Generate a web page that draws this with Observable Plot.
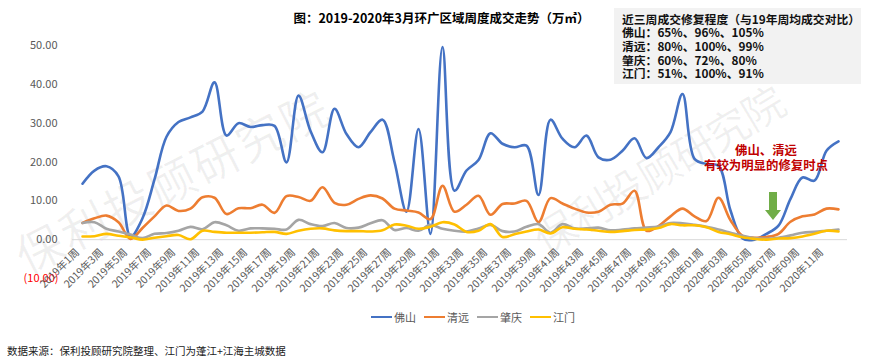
<!DOCTYPE html>
<html><head><meta charset="utf-8">
<script src="https://cdn.jsdelivr.net/npm/d3@7"></script>
<script src="https://cdn.jsdelivr.net/npm/@observablehq/plot@0.6"></script>
<style>
html,body{margin:0;padding:0;background:#fff;}
#wrap{position:relative;width:883px;height:362px;overflow:hidden;background:#fff;font-family:"Noto Sans CJK SC","Noto Sans",sans-serif;}
#wrap svg{position:absolute;left:0;top:0;}
.abs{position:absolute;white-space:nowrap;}
#title{left:0;width:883px;top:8px;text-align:center;font-size:12.5px;font-weight:bold;color:#000;line-height:19px;}
#box{left:614px;top:8px;width:247px;height:76px;background:#f2f2f2;}
.bl{position:absolute;left:8px;font-size:11.8px;font-weight:bold;color:#111;line-height:13.7px;white-space:nowrap;}
#note{left:696px;width:140px;top:143px;text-align:center;font-size:12.4px;font-weight:bold;color:#c00000;line-height:15px;}
.wm{position:absolute;color:rgba(0,0,0,0.06);white-space:nowrap;text-align:center;}
.leg{position:absolute;top:309px;height:16px;display:flex;align-items:center;font-size:11px;color:#595959;}
.leg .sw{display:inline-block;width:21px;height:2.6px;margin-right:2px;}
#src{left:7px;top:343px;font-size:10.5px;color:#222;line-height:16px;}
</style></head>
<body><div id="wrap"></div>
<script>
const weeks = ["2019年1周","2019年2周","2019年3周","2019年4周","2019年5周","2019年6周","2019年7周","2019年8周","2019年9周","2019年10周",
"2019年11周","2019年12周","2019年13周","2019年14周","2019年15周","2019年16周","2019年17周","2019年18周","2019年19周","2019年20周",
"2019年21周","2019年22周","2019年23周","2019年24周","2019年25周","2019年26周","2019年27周","2019年28周","2019年29周","2019年30周",
"2019年31周","2019年32周","2019年33周","2019年34周","2019年35周","2019年36周","2019年37周","2019年38周","2019年39周","2019年40周",
"2019年41周","2019年42周","2019年43周","2019年44周","2019年45周","2019年46周","2019年47周","2019年48周","2019年49周","2019年50周",
"2019年51周","2019年52周","2020年01周","2020年02周","2020年03周","2020年04周","2020年05周","2020年06周","2020年07周","2020年08周",
"2020年09周","2020年10周","2020年11周","2020年12周"];

const foshan = [14.4,17.8,18.9,16.3,0.8,5.5,15.5,26.5,30.3,31.5,
33.0,40.5,26.8,30.0,29.0,29.5,29.3,19.9,37.1,28.0,
22.5,33.7,27.2,23.8,27.7,30.9,20.0,7.2,28.5,1.5,
49.6,12.6,17.8,20.5,27.4,24.7,23.8,24.2,11.5,30.9,
26.0,23.8,26.8,21.2,20.6,22.9,26.1,21.0,23.8,27.7,
37.5,20.8,19.5,19.0,7.5,0.3,0.0,1.5,3.6,10.5,
16.0,15.2,22.9,25.3];
const qingyuan = [4.3,5.5,6.2,4.5,0.2,3.0,6.0,8.8,7.4,8.0,
10.9,10.8,6.6,8.1,8.1,9.0,6.9,11.2,11.0,10.0,
13.5,9.5,9.0,10.5,11.4,10.6,8.0,7.5,7.0,5.3,
13.9,7.2,9.0,11.3,6.4,9.2,9.3,10.0,4.5,10.7,
9.3,8.0,7.0,7.2,9.0,9.3,12.6,2.3,3.5,6.0,
8.0,6.0,4.8,10.8,5.0,1.0,0.5,0.7,1.5,4.6,
6.0,6.5,8.0,7.8];
const zhaoqing = [4.3,4.5,2.8,2.1,1.3,0.4,1.5,1.7,2.3,3.3,
2.7,4.5,3.7,2.3,2.9,2.9,2.8,2.6,5.1,4.0,
3.5,4.3,3.0,3.1,4.2,5.0,2.5,3.0,2.3,3.8,
2.8,2.3,2.1,2.9,3.8,2.2,2.1,3.3,4.0,1.8,
4.0,2.9,2.9,3.1,2.4,2.6,2.9,3.1,3.4,4.3,
4.2,3.8,3.3,2.6,1.8,1.0,0.4,0.2,0.5,1.1,
1.8,2.0,2.3,2.6];
const jiangmen = [0.8,0.9,1.5,1.0,0.6,0.0,0.5,0.9,1.2,0.1,
2.3,2.0,1.8,1.8,1.8,1.9,2.0,1.5,2.3,2.8,
2.9,2.4,2.2,2.2,2.1,2.4,3.9,3.6,2.8,3.3,
4.5,3.9,2.0,2.3,4.0,0.7,1.4,2.1,2.6,1.6,
3.2,2.8,2.6,2.3,2.0,2.2,2.5,2.6,3.0,4.0,
3.7,3.7,3.2,2.0,1.4,0.6,0.2,0.0,0.3,0.4,
0.8,1.5,2.3,2.1];

const cities = ["佛山","清远","肇庆","江门"];
const cityColors = ["#4472c4","#ed7d31","#a5a5a5","#ffc000"];
const yTicks = [-10,0,10,20,30,40,50];
const titleText = "图：2019-2020年3月环广区域周度成交走势（万㎡）";
const boxLines = ["近三周成交修复程度（与19年周均成交对比）","佛山：65%、96%、105%","清远：80%、100%、99%","肇庆：60%、72%、80%","江门：51%、100%、91%"];
const noteLines = ["佛山、清远","有较为明显的修复时点"];
const sourceText = "数据来源：保利投顾研究院整理、江门为蓬江+江海主城数据";
const watermark = "保利投顾研究院";

const series = [foshan, qingyuan, zhaoqing, jiangmen];
const rows = cities.flatMap((c, k) => series[k].map((v, i) => ({week: weeks[i], city: c, value: v})));

const wrap = document.getElementById("wrap");

// watermarks (behind chart), one glyph per element: [start x, start y, end x, end y, font size]
[[38,246,302,112,47],[554,230,762,106,42]].forEach(([x0,y0,x1,y1,fs]) => {
  const chars = Array.from(watermark);
  const ang = Math.atan2(y1 - y0, x1 - x0) * 180 / Math.PI;
  chars.forEach((ch, j) => {
    const t = j / (chars.length - 1);
    const cx = x0 + (x1 - x0) * t, cy = y0 + (y1 - y0) * t;
    const w = document.createElement("div");
    w.className = "wm";
    w.textContent = ch;
    w.style.fontSize = fs + "px";
    w.style.lineHeight = fs + "px";
    w.style.width = fs + "px";
    w.style.left = (cx - fs / 2) + "px";
    w.style.top = (cy - fs / 2) + "px";
    w.style.transform = `rotate(${ang}deg)`;
    wrap.appendChild(w);
  });
});

const chart = Plot.plot({
  width: 883, height: 362,
  marginLeft: 72, marginRight: 36, marginTop: 45, marginBottom: 84,
  x: {type: "point", domain: weeks, padding: 0.5, axis: null},
  y: {domain: [-10, 50], axis: null},
  color: {domain: cities, range: cityColors},
  style: {background: "transparent", fontFamily: "'Noto Sans CJK SC','Noto Sans',sans-serif"},
  marks: [
    Plot.ruleY([0], {stroke: "#d9d9d9", strokeWidth: 1}),
    Plot.line(rows, {x: "week", y: "value", stroke: "city", z: "city", strokeWidth: 2.6, curve: "catmull-rom"}),
    Plot.text(yTicks.filter(d => d >= 0), {y: d => d, text: d => d.toFixed(2), frameAnchor: "left", textAnchor: "end", dx: -15, fill: "#595959", fontSize: 11}),
    Plot.text(yTicks.filter(d => d < 0), {y: d => d, text: d => "(" + Math.abs(d).toFixed(2) + ")", frameAnchor: "left", textAnchor: "end", dx: -14, fill: "#ff0000", fontSize: 11}),
    Plot.text(weeks.filter((d, i) => i % 2 === 0), {x: d => d, y: 0, text: d => d, rotate: -45, textAnchor: "end", dx: -5, dy: 11, fill: "#595959", fontSize: 10.5})
  ]
});
wrap.appendChild(chart);

function addDiv(id, html) {
  const d = document.createElement("div");
  d.id = id; d.className = "abs"; d.innerHTML = html;
  wrap.appendChild(d);
  return d;
}
addDiv("title", titleText);
const box = addDiv("box", "");
boxLines.forEach((t, j) => {
  const l = document.createElement("div");
  l.className = "bl";
  l.style.top = (3.5 + j * 13.7) + "px";
  l.textContent = t;
  box.appendChild(l);
});
addDiv("note", noteLines.join("<br>"));
addDiv("src", sourceText);

// green arrow annotation
const ns = "http://www.w3.org/2000/svg";
const arr = document.createElementNS(ns, "svg");
arr.setAttribute("width", "20"); arr.setAttribute("height", "30");
arr.style.position = "absolute"; arr.style.left = "763px"; arr.style.top = "191px";
const poly = document.createElementNS(ns, "polygon");
poly.setAttribute("points", "6,1 14,1 14,19 18,19 10,29 2,19 6,19");
poly.setAttribute("fill", "#70ad47");
arr.appendChild(poly);
wrap.appendChild(arr);

// legend
const legLeft = [371, 424, 477, 530];
cities.forEach((c, k) => {
  const d = document.createElement("div");
  d.className = "leg";
  d.style.left = legLeft[k] + "px";
  d.innerHTML = `<span class="sw" style="background:${cityColors[k]}"></span>${c}`;
  wrap.appendChild(d);
});
</script>
</body></html>
